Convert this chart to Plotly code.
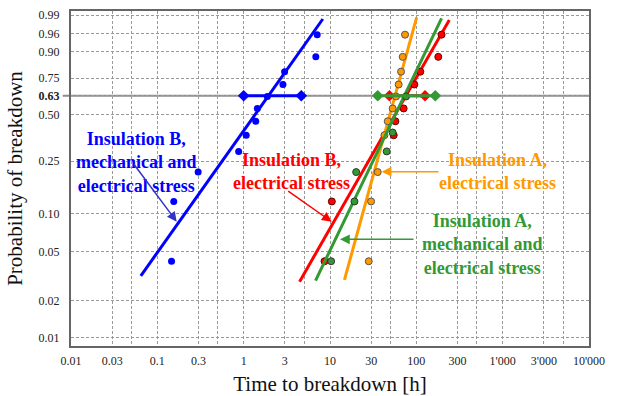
import numpy as np
import plotly.graph_objects as go

# ---- data (time in hours, probability of breakdown) ----
blue_t = [0.146, 0.155, 0.297, 0.875, 1.07, 1.38, 1.44, 1.88, 2.85, 2.98, 6.85, 7.11]
blue_p = [0.042, 0.125, 0.208, 0.292, 0.375, 0.458, 0.542, 0.625, 0.708, 0.792, 0.875, 0.958]
blue_ci_t = [1.0, 4.65]
blue_fit_t = [0.0644, 8.26]
blue_fit_p = [0.032, 0.986]

red_t = [8.64, 10.5, 54.7, 57.2, 71.3, 94.8, 111.2, 179.6, 196]
red_p = [0.042, 0.125, 0.375, 0.458, 0.542, 0.708, 0.792, 0.875, 0.958]
red_ci_t = [48.8, 126.1]
red_fit_t = [4.44, 240.9]
red_fit_p = [0.0287, 0.9848]

green_t = [10.3, 19.2, 20.1, 45.4, 53.2, 76.0]
green_p = [0.042, 0.125, 0.208, 0.292, 0.39, 0.625]
green_ci_t = [35.7, 165.9]
green_fit_t = [6.80, 196]
green_fit_p = [0.0293, 0.9867]

orange_t = [28.1, 29.9, 35.7, 42.7, 46.6, 53.2, 58.2, 62.4, 66.5, 69.5, 74.0]
orange_p = [0.042, 0.125, 0.208, 0.375, 0.458, 0.542, 0.625, 0.708, 0.792, 0.875, 0.958]
orange_fit_t = [14.7, 100.8]
orange_fit_p = [0.0297, 0.9878]

char_p = 0.63  # characteristic life level

y_ticks = [0.01, 0.02, 0.05, 0.10, 0.25, 0.50, 0.63, 0.75, 0.90, 0.96, 0.99]
y_labels = ["0.01", "0.02", "0.05", "0.10", "0.25", "0.50", "<b>0.63</b>", "0.75", "0.90", "0.96", "0.99"]
x_ticks = [0.01, 0.03, 0.05, 0.1, 0.3, 0.5, 1, 3, 5, 10, 30, 50, 100, 300, 500, 1000, 3000, 5000, 10000]
x_labels = ["0.01", "0.03", "", "0.1", "0.3", "", "1", "3", "", "10", "30", "", "100", "300", "",
            "1'000", "3'000", "", "10'000"]


def W(p):
    p = np.asarray(p, dtype=float)
    return np.log(-np.log(1.0 - p))


BLUE = "#0000FF"
RED = "#FF0000"
GREEN = "#339933"
ORANGE = "#FF9900"
FONT = "Liberation Serif"

fig = go.Figure()


def fit_line(t, p, color):
    fig.add_trace(go.Scatter(x=t, y=W(p), mode="lines",
                             line=dict(color=color, width=3), hoverinfo="skip"))


def points(t, p, color, outline):
    fig.add_trace(go.Scatter(x=t, y=W(p), mode="markers",
                             marker=dict(color=color, size=7,
                                         line=dict(color=outline, width=1 if outline else 0))))


def ci_bar(t, color):
    fig.add_trace(go.Scatter(x=t, y=W([char_p] * len(t)), mode="lines+markers",
                             line=dict(color=color, width=3),
                             marker=dict(symbol="diamond", size=9, color=color)))


# Insulation B, mechanical and electrical (blue)
fit_line(blue_fit_t, blue_fit_p, BLUE)
ci_bar(blue_ci_t, BLUE)
points(blue_t, blue_p, BLUE, None)

# Insulation B, electrical (red)
fit_line(red_fit_t, red_fit_p, RED)
ci_bar(red_ci_t, RED)
points(red_t, red_p, RED, "#660000")

# Insulation A, electrical (orange)
fit_line(orange_fit_t, orange_fit_p, ORANGE)
points(orange_t, orange_p, ORANGE, "#555555")

# Insulation A, mechanical and electrical (green)
fit_line(green_fit_t, green_fit_p, GREEN)
points(green_t, green_p, GREEN, "#333333")
ci_bar(green_ci_t, GREEN)

# solid line at the characteristic 63 % level
fig.add_shape(type="line", xref="paper", yref="y", x0=-0.016, x1=1,
              y0=float(W(char_p)), y1=float(W(char_p)),
              line=dict(color="#8c8c8c", width=2), layer="below")

L, R, T, B = 71, 30, 11, 50
PW, PH = 619 - L - R, 396 - T - B


def px(x, y):
    return (x - L) / PW, (396 - B - y) / PH


def label(text, cx, cy, color):
    x, y = px(cx, cy)
    fig.add_annotation(x=x, y=y, xref="paper", yref="paper", text=text, showarrow=False,
                       font=dict(family=FONT, size=18, color=color), align="center",
                       xanchor="center", yanchor="middle")


def arrow(hx, hy, tx, ty, color):
    x, y = px(hx, hy)
    fig.add_annotation(x=x, y=y, xref="paper", yref="paper", text="", showarrow=True,
                       ax=tx - hx, ay=ty - hy, arrowhead=2, arrowsize=1.3, arrowwidth=1.5,
                       arrowcolor=color, standoff=0)


label("<b>Insulation B,<br>mechanical and<br>electrical stress</b>", 136, 162, BLUE)
label("<b>Insulation B,<br>electrical stress</b>", 291, 171, RED)
label("<b>Insulation A,<br>electrical stress</b>", 497, 171, ORANGE)
label("<b>Insulation A,<br>mechanical and<br>electrical stress</b>", 482, 244, GREEN)

arrow(176.7, 221.7, 133, 163, "#3333CC")
arrow(331.7, 221.7, 286.7, 190, RED)
arrow(381.7, 171.7, 440, 171.7, ORANGE)
arrow(340, 239.3, 415, 239.3, GREEN)

grid = dict(showgrid=True, gridcolor="#9a9a9a", gridwidth=1, griddash="3px,2px")

fig.update_layout(
    width=619, height=396,
    margin=dict(l=L, r=R, t=T, b=B),
    paper_bgcolor="white", plot_bgcolor="white",
    showlegend=False,
    font=dict(family=FONT, color="#222222"),
    xaxis=dict(type="log", range=[-2, 4], tickmode="array", tickvals=x_ticks, ticktext=x_labels,
               tickfont=dict(size=12, family=FONT, color="#222"), ticks="", ticklabelstandoff=3,
               showline=True, linecolor="#666666", linewidth=2, mirror=True, zeroline=False,
               automargin=False,
               title=dict(text="Time to breakdown [h]", font=dict(size=21, family=FONT, color="#111"),
                          standoff=10),
               **grid),
    yaxis=dict(range=[float(W(0.01)) - 0.158, float(W(0.99)) + 0.076], tickmode="array",
               tickvals=W(y_ticks), ticktext=y_labels,
               tickfont=dict(size=12, family=FONT, color="#222"), ticks="", ticklabelstandoff=7,
               showline=True, linecolor="#666666", linewidth=2, mirror=True, zeroline=False,
               automargin=False,
               title=dict(text="Probability of breakdown", font=dict(size=21, family=FONT, color="#111"),
                          standoff=10),
               **grid),
)

fig.write_html("out.html", config={"displayModeBar": False},
               post_script="document.body.style.margin='0';document.body.style.padding='0';")
